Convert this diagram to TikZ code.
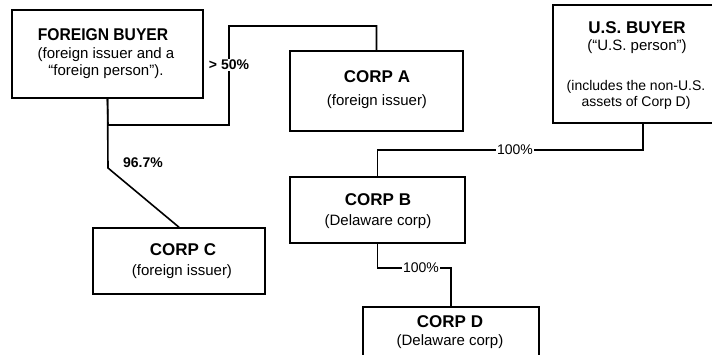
\documentclass[tikz,border=0pt]{standalone}
\usepackage{fontspec}
\setmainfont{Liberation Sans}
\begin{document}
\begin{tikzpicture}[x=1pt,y=-1pt,
  box/.style={draw,line width=1.5pt,rectangle,inner sep=0pt},
  ttl/.style={font=\fontsize{17}{19}\selectfont\bfseries},
  sub/.style={font=\fontsize{15}{17}\selectfont,align=center},
  lnk/.style={line width=1.6pt},
  pct/.style={fill=white,inner sep=1pt,font=\fontsize{14}{15}\selectfont\bfseries}]
\useasboundingbox (0,0) rectangle (712,355);
% boxes
\node[box,minimum width=191pt,minimum height=88pt] (fb) at (107.5,54) {};
\node[box,minimum width=173pt,minimum height=80pt] (a) at (376.5,91) {};
\node[box,minimum width=167pt,minimum height=118pt] (us) at (636.5,64) {};
\node[box,minimum width=175pt,minimum height=66pt] (b) at (377.5,210) {};
\node[box,minimum width=172pt,minimum height=66pt] (c) at (179,261) {};
\node[box,minimum width=176pt,minimum height=53pt] (d) at (451,333.5) {};
% texts
\node[ttl,xscale=0.92] (fbt) at (103,35) {FOREIGN BUYER};
\node[sub] (fbs) at (106,63.5) {(foreign issuer and a\\“foreign person”).};
\node[ttl] (at) at (377,77) {CORP A};
\node[sub] (as) at (377,102) {(foreign issuer)};
\node[ttl] (ust) at (637,28) {U.S. BUYER};
\node[sub] (uss) at (637,47) {(“U.S. person”)};
\node[sub,font=\fontsize{14}{16}\selectfont] (usn) at (636,95) {(includes the non-U.S.\\assets of Corp D)};
\node[ttl] (bt) at (378,200) {CORP B};
\node[sub] (bs) at (378,222) {(Delaware corp)};
\node[ttl] (ct) at (183,250) {CORP C};
\node[sub] (cs) at (182,272) {(foreign issuer)};
\node[ttl] (dt) at (450,322) {CORP D};
\node[sub] (ds) at (450,342) {(Delaware corp)};
% connectors
\draw[lnk] (fb.south) -- (108,125) -| (229,26) -| (a.north);
\node[pct] (l50) at (229,65) {> 50\%};
\draw[lnk] (fb.south) -- (108,168) -- (c.north);
\node[pct,fill=none] (l96) at (143,163) {96.7\%};
\draw[lnk] ([xshift=6.5pt]us.south) -- ([xshift=6.5pt]us.south |- 0,150) -| (b.north);
\node[pct,font=\fontsize{14}{15}\selectfont] (l100a) at (515,150) {100\%};
\draw[lnk] (b.south) |- (420,268) -| (d.north);
\node[pct,font=\fontsize{14}{15}\selectfont] (l100b) at (421,268) {100\%};
\end{tikzpicture}
\end{document}
